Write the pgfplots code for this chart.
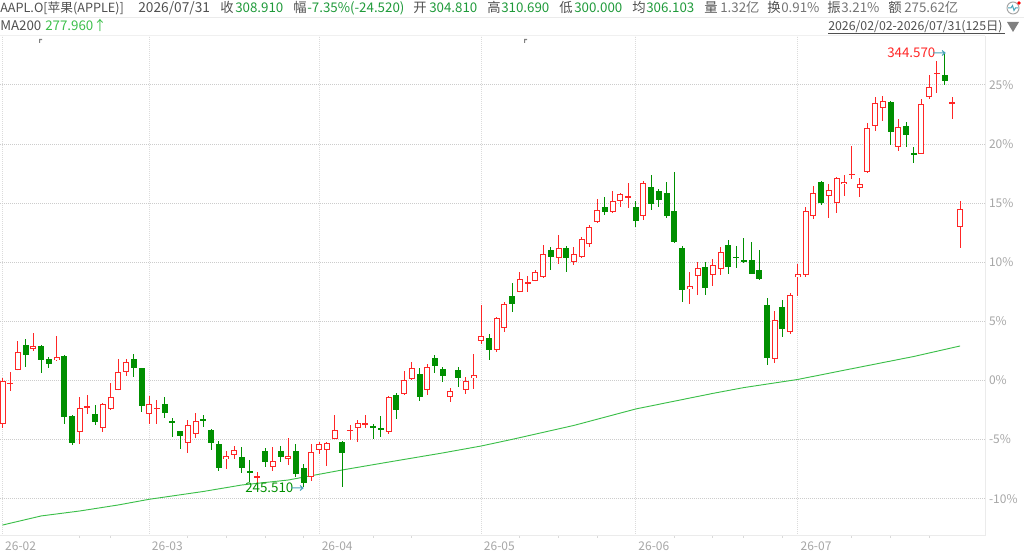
\documentclass[border=0pt]{standalone}
\usepackage{fontspec}
\setmainfont{Noto Sans CJK SC}
\usepackage{pgfplots}
\usepackage{pgfplotstable}
\pgfplotsset{compat=1.18}
\definecolor{ckred}{HTML}{FF2626}
\definecolor{ckgreen}{HTML}{008F00}
\definecolor{magreen}{HTML}{3CBF4A}
\definecolor{gridc}{HTML}{CCCCCC}
\definecolor{lab}{HTML}{A6A6A6}
\definecolor{hd}{HTML}{505050}
\definecolor{num}{HTML}{1F9A3A}
\definecolor{arrowc}{HTML}{4AA3B8}
% columns: candle index, open, high, low, close (percent against the base price)
\pgfplotstableread{
i open high low close
0 -3.71 0.18 -3.99 -0.01
1 -0.24 0.72 -0.86 -0.24
2 0.86 3.31 0.86 2.38
4 2.69 3.99 2.52 2.95
7 1.71 3.77 1.65 1.96
10 -4.39 -1.40 -5.37 -2.35
11 -2.35 -1.20 -2.81 -2.19
13 -4.05 -1.93 -4.39 -2.02
14 -2.41 -0.24 -2.50 -1.42
15 -0.83 1.82 -0.83 0.75
16 0.69 1.82 0.41 1.54
19 -2.81 -1.31 -3.65 -1.99
20 -2.35 -1.65 -3.65 -2.35
24 -5.32 -3.34 -6.11 -3.79
25 -4.55 -2.78 -4.84 -3.46
29 -6.64 -5.96 -7.49 -6.42
30 -6.27 -5.57 -6.61 -5.91
33 -8.16 -7.74 -8.98 -8.16
35 -7.32 -5.63 -7.63 -6.84
37 -6.61 -4.89 -7.12 -6.42
40 -8.19 -5.37 -8.47 -6.08
41 -5.91 -5.17 -6.22 -5.34
42 -5.85 -5.17 -7.23 -5.32
43 -4.98 -2.92 -4.98 -4.16
45 -4.30 -3.77 -5.01 -4.16
46 -4.05 -3.34 -5.17 -3.57
47 -3.71 -2.92 -4.05 -3.57
50 -4.36 -1.31 -4.55 -1.42
52 -1.11 0.80 -1.23 0.01
53 0.16 1.56 0.10 1.09
55 -0.83 1.37 -1.20 1.17
58 -1.42 -0.61 -1.85 -0.92
60 -0.80 0.32 -1.14 -0.01
61 0.18 2.24 -0.72 0.44
62 3.31 6.39 3.12 3.74
64 2.55 5.35 2.44 5.26
65 4.47 6.64 4.07 6.44
67 7.46 9.18 7.46 8.59
68 8.19 8.84 7.49 8.36
69 8.39 9.38 8.39 9.18
70 8.76 11.46 8.70 10.67
72 10.34 12.34 9.89 11.18
74 10.00 11.32 9.74 10.73
75 10.48 12.11 10.39 11.94
76 11.52 13.13 11.30 12.96
77 13.44 15.36 13.30 14.40
79 14.26 16.03 14.20 15.16
80 15.16 15.84 14.71 15.75
81 15.55 16.71 14.62 15.55
83 13.89 16.85 13.61 16.74
89 7.71 9.15 6.44 8.02
90 8.81 10.00 7.26 9.49
92 8.95 10.28 8.02 9.77
93 9.41 11.27 8.93 10.84
100 1.85 5.88 1.51 5.09
102 4.13 7.38 3.96 7.21
103 8.73 9.86 7.15 8.98
104 8.95 14.65 8.79 14.31
105 13.89 16.46 13.66 15.84
107 15.58 16.65 13.78 16.09
108 15.05 17.24 14.20 17.10
109 16.63 17.39 15.64 16.82
110 17.47 19.84 17.02 17.47
111 16.26 17.10 15.55 16.63
112 17.67 21.76 17.58 21.33
113 21.53 23.96 21.14 23.45
114 23.03 24.07 21.96 23.62
116 19.76 22.10 19.39 21.42
119 19.19 23.84 19.19 23.36
120 23.96 25.82 23.79 24.80
121 25.99 27.03 24.35 25.99
123 23.48 24.01 22.10 23.48
124 12.98 15.16 11.19 14.50
}\redtab
\pgfplotstableread{
i open high low close
3 2.97 3.51 1.17 2.19
5 2.92 3.00 0.66 1.73
6 1.79 1.99 1.06 1.37
8 2.07 2.13 -3.65 -3.06
9 -3.00 -2.92 -5.43 -5.26
12 -2.81 -2.07 -3.74 -3.48
17 1.79 2.24 0.32 1.09
18 1.06 1.06 -2.67 -2.19
21 -2.02 -1.42 -3.20 -2.75
22 -3.46 -3.15 -4.75 -3.57
23 -4.30 -4.24 -5.77 -4.67
26 -3.34 -2.95 -3.91 -3.34
27 -4.22 -4.13 -5.85 -5.32
28 -5.40 -5.09 -7.63 -7.37
31 -6.50 -5.63 -7.80 -7.43
32 -7.74 -6.73 -8.56 -7.74
34 -5.99 -5.71 -7.32 -6.87
36 -5.94 -5.57 -6.87 -6.44
38 -5.99 -5.37 -8.19 -7.88
39 -7.43 -7.09 -9.01 -8.64
44 -5.17 -5.12 -9.04 -6.13
48 -3.91 -3.68 -4.98 -3.91
49 -4.08 -3.00 -4.75 -4.08
51 -1.23 -1.06 -3.23 -2.47
54 0.52 1.06 -1.73 -1.40
56 1.87 2.13 0.61 1.25
57 0.94 1.11 -0.10 0.41
59 0.86 1.14 -0.52 0.24
63 3.60 3.94 1.73 2.55
66 7.15 8.22 5.82 6.50
71 11.01 11.27 9.35 10.45
73 11.18 11.38 9.21 10.34
78 14.68 15.52 14.00 14.26
82 14.68 15.16 12.99 13.50
84 16.40 17.41 14.42 14.93
85 16.03 16.17 14.71 15.30
86 15.86 16.77 13.78 13.89
87 14.34 17.61 11.60 11.69
88 11.21 11.38 6.61 7.63
91 9.60 10.00 7.26 7.86
94 11.46 11.89 9.04 9.63
95 10.42 11.35 9.52 10.42
96 10.14 12.03 9.94 10.14
97 10.20 11.72 8.98 9.04
98 9.38 11.04 8.50 8.59
99 6.42 6.98 1.34 1.88
101 6.19 6.78 3.65 4.39
106 16.79 16.91 14.85 15.05
115 23.56 23.65 19.92 21.05
117 21.50 21.90 19.78 20.77
118 19.19 19.78 18.37 19.19
122 25.85 27.71 25.00 25.31
}\greentab
\pgfplotstableread{
i ma
0 -12.23
5 -11.46
10 -11.04
15 -10.53
19 -10.05
26 -9.39
31 -8.84
37 -8.42
44 -7.57
50 -6.90
57 -6.13
62 -5.54
66 -4.98
74 -3.80
82 -2.41
92 -1.09
96 -0.60
103 0.09
109 0.87
118 2.03
124 2.92
}\matab
\newcommand\hh[4]{\node[anchor=base west,inner sep=0pt,text=#3] at (#1,#2) {#4};}
\begin{document}
\begin{tikzpicture}
\path[use as bounding box] (0,0) rectangle (768pt,414pt);
\begin{axis}[
  at={(0pt,12pt)}, anchor=south west,
  scale only axis, width=738.75pt, height=375pt,
  xmin=-0.324, xmax=127.23, ymin=-13.156, ymax=29.146,
  axis x line=bottom, axis y line=right,
  axis line style={-, draw=black!8, line width=.75pt},
  xtick={0,19,41,62,82,103},
  xticklabels={26-02,26-03,26-04,26-05,26-06,26-07},
  minor xtick={10,14,24,29,34,39,48,53,67,72,77,87,92,96,101,110,115,120},
  ytick={-10,-5,0,5,10,15,20,25},
  yticklabels={-10\%,-5\%,0\%,5\%,10\%,15\%,20\%,25\%},
  major tick length=0pt,
  minor tick length=1.5pt,
  minor tick style={draw=black!15, line width=.75pt},
  xtick align=outside,
  tick label style={font=\fontsize{9pt}{10pt}\selectfont, text=lab},
  xticklabel style={anchor=north west, xshift=-1.5pt, yshift=-1pt},
  yticklabel style={anchor=west, xshift=-0.5pt},
  grid=major,
  x grid style={draw=black!14, line width=.75pt, dash pattern=on .75pt off .75pt},
  y grid style={draw=gridc, line width=.75pt, dash pattern=on .75pt off .75pt},
  clip=true,
  axis on top=false,
]
% moving average
\addplot[magreen, line width=.7pt, forget plot] table[x=i, y=ma] \matab;
% wicks
\addplot[draw=none, mark=none, forget plot, error bars/.cd, y dir=both, y explicit, error mark=none,
  error bar style={draw=ckgreen, line width=.75pt}]
  table[x=i, y=open, y error plus expr=\thisrow{high}-\thisrow{open}, y error minus expr=\thisrow{open}-\thisrow{low}] \greentab;
\addplot[draw=none, mark=none, forget plot, error bars/.cd, y dir=both, y explicit, error mark=none,
  error bar style={draw=ckred, line width=.75pt}]
  table[x=i, y=open, y error plus expr=\thisrow{high}-\thisrow{open}, y error minus expr=\thisrow{open}-\thisrow{low}] \redtab;
% bodies
\addplot[draw=none, mark=none, forget plot, error bars/.cd, y dir=both, y explicit, error mark=none,
  error bar style={draw=ckgreen, line width=4.5pt}]
  table[x=i, y expr=(\thisrow{open}+\thisrow{close})/2,
    y error plus expr={max(abs(\thisrow{close}-\thisrow{open})/2,0.042)},
    y error minus expr={max(abs(\thisrow{close}-\thisrow{open})/2,0.042)}] \greentab;
\addplot[draw=none, mark=none, forget plot, error bars/.cd, y dir=both, y explicit, error mark=none,
  error bar style={draw=ckred, line width=4.5pt}]
  table[x=i, y expr=(\thisrow{open}+\thisrow{close})/2,
    y error plus expr={max(abs(\thisrow{close}-\thisrow{open})/2,0.042)},
    y error minus expr={max(abs(\thisrow{close}-\thisrow{open})/2,0.042)}] \redtab;
\addplot[draw=none, mark=none, forget plot, error bars/.cd, y dir=both, y explicit, error mark=none,
  error bar style={draw=white, line width=3pt}]
  table[x=i, y expr=(\thisrow{open}+\thisrow{close})/2,
    y error plus expr={max(abs(\thisrow{close}-\thisrow{open})/2-0.085,0)},
    y error minus expr={max(abs(\thisrow{close}-\thisrow{open})/2-0.085,0)}] \redtab;
\end{axis}
\begin{scope}[shift={(0pt,414pt)}, x=0.75pt, y=-0.75pt, font=\fontsize{10pt}{11pt}\selectfont]
\draw[black!8, line width=.75pt] (0,17.5) -- (1024,17.5);
\draw[black!6, line width=.75pt] (0,35.5) -- (985,35.5);
\hh{0}{12.5}{hd}{\fontsize{9.5pt}{10pt}\selectfont AAPL.O[苹果(APPLE)]}
\hh{138}{12.5}{hd}{\fontsize{10.3pt}{11pt}\selectfont 2026/07/31}
\hh{220}{12.5}{hd}{收}
\hh{235}{12.5}{num}{308.910}
\hh{293}{12.5}{hd}{幅}
\hh{307}{12.5}{num}{-7.35\%(-24.520)}
\hh{413}{12.5}{hd}{开}
\hh{429}{12.5}{num}{304.810}
\hh{487}{12.5}{hd}{高}
\hh{501}{12.5}{num}{310.690}
\hh{559}{12.5}{hd}{低}
\hh{574}{12.5}{num}{300.000}
\hh{632}{12.5}{hd}{均}
\hh{646}{12.5}{num}{306.103}
\hh{704}{12.5}{hd}{量}
\hh{720}{12.5}{hd!80}{1.32亿}
\hh{767}{12.5}{hd}{换}
\hh{781}{12.5}{hd!80}{0.91\%}
\hh{827}{12.5}{hd}{振}
\hh{841}{12.5}{hd!80}{3.21\%}
\hh{888}{12.5}{hd}{额}
\hh{904}{12.5}{hd!80}{275.62亿}
\hh{0}{31}{hd}{MA200}
\hh{45}{31}{magreen}{277.960↑}
\hh{828}{31}{hd}{\fontsize{9.25pt}{10pt}\selectfont 2026/02/02-2026/07/31(125日)}
\draw[hd, line width=.75pt] (828,33.5) -- (1005,33.5);
\fill[black!50] (1007,22) -- (1019,22) -- (1013,32) -- cycle;
\draw[black!35, line width=.75pt] (1013,8) circle (6);
\draw[arrowc, line width=.75pt] (1008,8) -- (1011,8) -- (1012.5,5.5) -- (1014,10.5) -- (1015.5,8) -- (1018,8);
\fill[red] (1019,3) circle (1.8);
\fill[black!50] (39,39) rectangle (42,40.2) (39,39) rectangle (40.2,43);
\fill[black!50] (524,39) rectangle (527,40.2) (524,39) rectangle (525.2,43);
\hh{887}{57.5}{ckred}{344.570}
\draw[arrowc, line width=.75pt] (933,53) -- (945,53) (942,50.5) -- (945,53) -- (942,55.5);
\hh{245}{492.5}{ckgreen}{245.510}
\draw[arrowc, line width=.75pt] (291,488) -- (303,488) (300,485.5) -- (303,488) -- (300,490.5);
\end{scope}
\end{tikzpicture}
\end{document}
